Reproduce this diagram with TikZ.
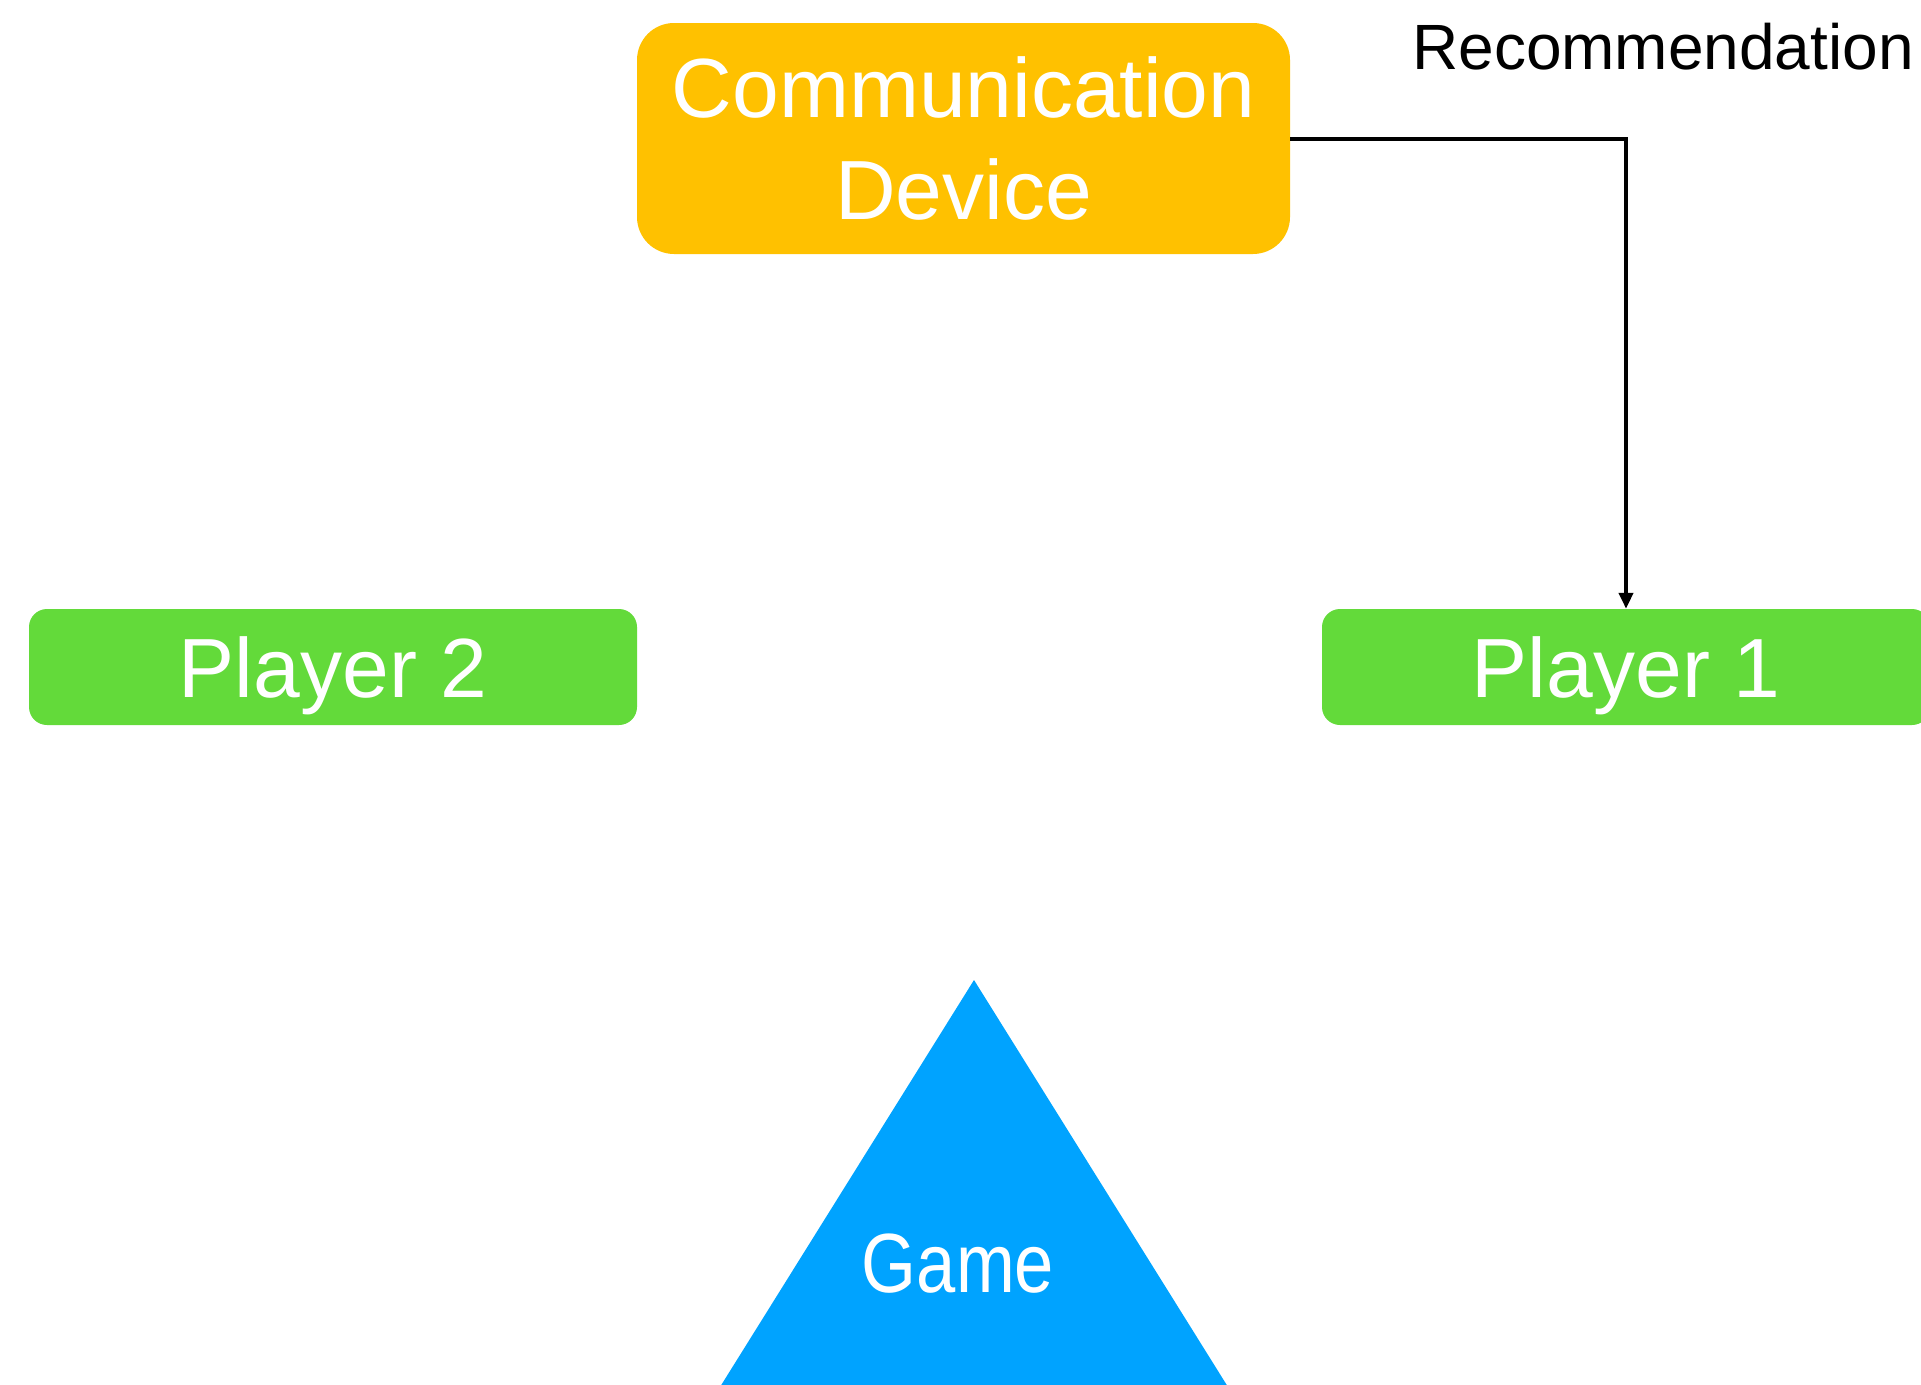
\documentclass[tikz,border=0pt]{standalone}
\usepackage{fontspec}
\usepackage{graphicx}
\setmainfont{Liberation Sans}
\usetikzlibrary{arrows.meta}
\definecolor{devorange}{HTML}{FFC100}
\definecolor{playergreen}{HTML}{63DA3A}
\definecolor{gameblue}{HTML}{00A3FF}
\tikzset{
  box/.style={rectangle, inner sep=0pt, text=white, align=center,
    font=\fontsize{84}{102}\selectfont, text depth=0pt},
  devicebox/.style={box, fill=devorange, rounded corners=37pt,
    minimum width=653pt, minimum height=231pt},
  playerbox/.style={box, fill=playergreen, rounded corners=18pt,
    minimum width=608pt, minimum height=116pt},
  flow/.style={draw=black, line width=4pt,
    -{Triangle[width=14pt,length=16pt]}},
}
\begin{document}
\begin{tikzpicture}[x=1pt, y=1pt]
  \useasboundingbox (0,0) rectangle (1921,-1384);
  \clip (0,0) rectangle (1921,-1384);

  % game triangle, running off the lower edge
  \fill[gameblue] (974,-980) -- (1326,-1544) -- (622,-1544) -- cycle;
  \node[box] (game) at (958,-1263.5) {\scalebox{0.84}[1]{Game}};

  \node[devicebox] (comm) at (963.5,-138.5) {Communication\\Device};
  \node[playerbox] (p2) at (333,-667) {Player 2};
  \node[playerbox] (p1) at (1626,-667) {Player 1};

  \node[font=\fontsize{64}{76}\selectfont, text depth=0pt, inner sep=0pt]
    (rec) at (1663,-46) {Recommendation};

  \draw[flow] (comm.east) -| (p1.north);
\end{tikzpicture}
\end{document}
